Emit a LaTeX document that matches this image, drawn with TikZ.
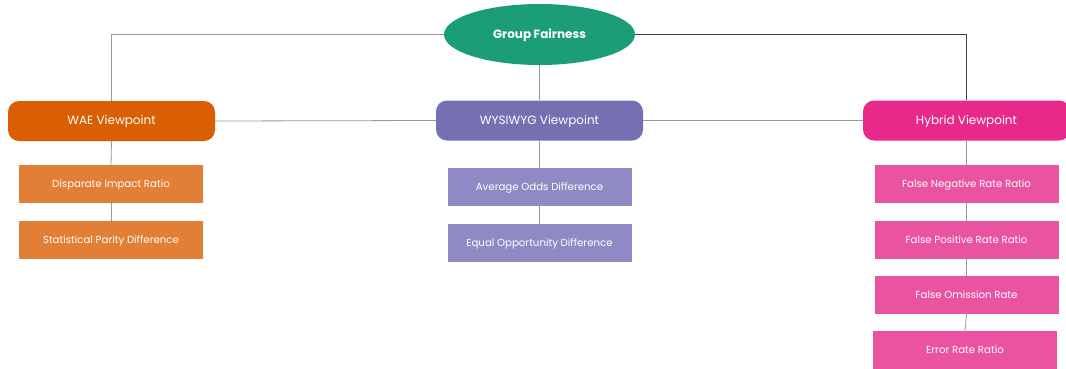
\documentclass[tikz,border=0pt]{standalone}
\usepackage{fontspec}
\setmainfont{Poppins}
\usepackage{xcolor}
\usepackage{tikz}
\usetikzlibrary{shapes.geometric,calc}

\definecolor{gfgreen}{HTML}{1B9E77}
\definecolor{waeorange}{HTML}{D95F02}
\definecolor{waelight}{HTML}{E27E36}
\definecolor{wyspurple}{HTML}{7570B3}
\definecolor{wyslight}{HTML}{8F8AC3}
\definecolor{hybpink}{HTML}{E7298A}
\definecolor{hyblight}{HTML}{EA53A0}

\tikzset{
  view/.style={rounded corners=11pt, minimum width=207pt, minimum height=40pt,
    text=white, font=\fontsize{12}{14}\selectfont, inner sep=0pt,
    text height=0.7em, text depth=0pt},
  metric/.style={minimum width=184pt, minimum height=38pt,
    text=white, font=\fontsize{10.2}{12}\selectfont, inner sep=0pt,
    text height=0.7em, text depth=0pt},
  link/.style={draw=black!40, line width=0.8pt}
}

\begin{document}
\begin{tikzpicture}[x=1pt,y=-1pt]
    \useasboundingbox[fill=white] (0,0) rectangle (1066,368);

    \node[ellipse, fill=gfgreen, text=white, minimum width=191pt, minimum height=61pt,
      inner sep=0pt, text height=0.7em, text depth=0pt,
      font=\fontsize{12}{14}\selectfont\bfseries] (gf) at (539.5,34.5) {Group Fairness};

    \node[view, fill=waeorange] (wae) at (111.5,121) {WAE Viewpoint};
    \node[view, fill=wyspurple] (wys) at (539.5,120.5) {WYSIWYG Viewpoint};
    \node[view, fill=hybpink] (hyb) at (966.5,120.5) {Hybrid Viewpoint};

    \node[metric, fill=waelight] (dir) at (111,184) {Disparate Impact Ratio};
    \node[metric, fill=waelight] (spd) at (111,240) {Statistical Parity Difference};

    \node[metric, fill=wyslight] (aod) at (539.5,187) {Average Odds Difference};
    \node[metric, fill=wyslight] (eod) at (539.5,243) {Equal Opportunity Difference};

    \node[metric, fill=hyblight] (fnr) at (966.5,184) {False Negative Rate Ratio};
    \node[metric, fill=hyblight] (fpr) at (966.5,240) {False Positive Rate Ratio};
    \node[metric, fill=hyblight] (for) at (966.5,295) {False Omission Rate};
    \node[metric, fill=hyblight] (err) at (965,350) {Error Rate Ratio};

    \draw[link] (gf.west) -| (wae.north);
    \draw[link, draw=black!75] (gf.east) -| (hyb.north);
    \draw[link] (gf.south) -- (wys.north);
    \draw[link] (wae.east) -- (wys.west);
    \draw[link] (wys.east) -- (hyb.west);

    \draw[link] (wae.south) -- (dir.north);
    \draw[link] (dir.south) -- (spd.north);
    \draw[link] (wys.south) -- (aod.north);
    \draw[link] (aod.south) -- (eod.north);
    \draw[link] (hyb.south) -- (fnr.north);
    \draw[link] (fnr.south) -- (fpr.north);
    \draw[link] (fpr.south) -- (for.north);
    \draw[link] (for.south) -- (err.north);
  \end{tikzpicture}
\end{document}
